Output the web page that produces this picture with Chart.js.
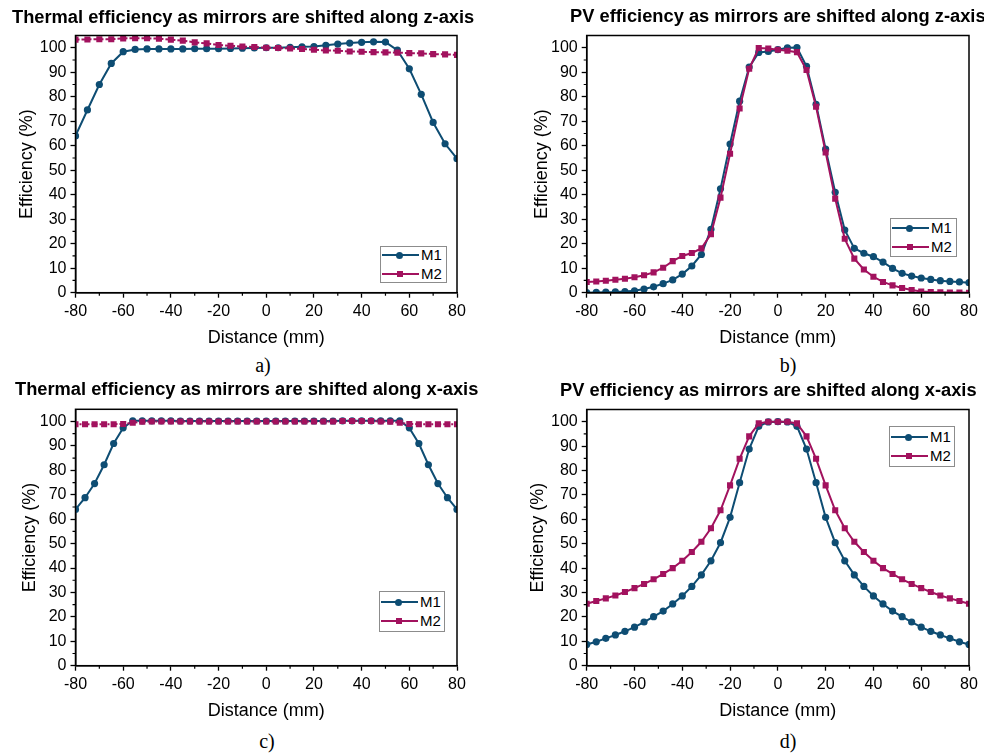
<!DOCTYPE html>
<html>
<head>
<meta charset="utf-8">
<script src="https://cdn.jsdelivr.net/npm/chart.js@4.4.0/dist/chart.umd.min.js"></script>
<style>
    html, body { margin: 0; padding: 0; width: 984px; height: 754px; overflow: hidden; background: #fff; }
    canvas { position: absolute; }
    .titulo { position: absolute; white-space: nowrap; color: #000; font: bold 18.3px/22px "Liberation Sans", Arial, sans-serif; }
    .rotulo { position: absolute; width: 60px; text-align: center; color: #000; font: 20px/24px "Liberation Serif", "Times New Roman", serif; }
    .legenda { position: absolute; box-sizing: border-box; border: 1px solid #8c8c8c; background: #fff; }
    .legenda span { position: absolute; left: 40px; color: #000; font: 15px/18px "Liberation Sans", Arial, sans-serif; }
</style>
</head>
<body>
<script>
// eixo x dos graficos (mm)
const distanciaPasso5 = [-80, -75, -70, -65, -60, -55, -50, -45, -40, -35, -30, -25, -20, -15, -10, -5, 0,
    5, 10, 15, 20, 25, 30, 35, 40, 45, 50, 55, 60, 65, 70, 75, 80];
const distanciaPasso4 = [-80, -76, -72, -68, -64, -60, -56, -52, -48, -44, -40, -36, -32, -28, -24, -20, -16, -12, -8, -4, 0,
    4, 8, 12, 16, 20, 24, 28, 32, 36, 40, 44, 48, 52, 56, 60, 64, 68, 72, 76, 80];

// a) termica, deslocamento em z
const termicaZ_M1 = [64.0, 74.6, 85.0, 93.6, 98.4, 99.3, 99.5, 99.5, 99.5, 99.5, 99.6, 99.6, 99.6, 99.7, 99.8, 99.9, 100.0,
    100.0, 100.2, 100.4, 100.5, 101.0, 101.5, 101.9, 102.2, 102.4, 102.3, 99.0, 91.4, 81.0, 69.5, 60.8, 54.7];
const termicaZ_M2 = [103.3, 103.4, 103.5, 103.5, 103.8, 103.9, 103.9, 103.7, 103.3, 102.9, 102.2, 101.8, 101.1, 100.8, 100.5, 100.3, 100.0,
    99.9, 99.7, 99.5, 99.2, 98.9, 98.8, 98.5, 98.4, 98.2, 98.1, 98.0, 97.8, 97.7, 97.4, 97.3, 97.1];

// b) PV, deslocamento em z
const pvZ_M1 = [0.0, 0.1, 0.2, 0.3, 0.5, 0.8, 1.5, 2.4, 3.7, 5.2, 7.6, 10.9, 15.6, 25.9, 42.4, 60.7, 78.2, 92.1, 98.1, 98.5, 99.2,
    100.0, 100.1, 92.4, 76.9, 58.6, 41.0, 25.6, 18.1, 16.1, 14.7, 12.5, 9.9, 7.9, 6.8, 6.0, 5.4, 4.9, 4.6, 4.4, 4.1];
const pvZ_M2 = [4.4, 4.6, 4.9, 5.3, 5.7, 6.3, 7.1, 8.3, 10.2, 12.9, 15.0, 16.2, 18.1, 23.9, 38.8, 56.7, 75.2, 91.4, 99.9, 99.7, 99.2,
    98.8, 98.2, 90.9, 75.9, 57.3, 38.4, 22.0, 13.9, 9.5, 6.5, 4.4, 3.0, 1.9, 1.1, 0.5, 0.3, 0.2, 0.1, 0.1, 0.0];

// c) termica, deslocamento em x
const termicaX_M1 = [64.0, 68.8, 74.6, 82.3, 91.0, 97.4, 100.3, 100.3, 100.3, 100.3, 100.3, 100.2, 100.2, 100.2, 100.2, 100.2, 100.2, 100.2, 100.2, 100.2, 100.2,
    100.2, 100.2, 100.2, 100.2, 100.2, 100.2, 100.2, 100.3, 100.3, 100.3, 100.3, 100.3, 100.3, 100.3, 97.4, 91.0, 82.3, 74.6, 68.8, 64.0];
const termicaX_M2 = [98.9, 98.9, 98.9, 98.9, 98.9, 99.0, 99.5, 99.9, 100.0, 100.0, 100.0, 100.0, 100.0, 100.0, 100.0, 100.0, 100.0, 100.0, 100.0, 100.0, 100.0,
    100.0, 100.0, 100.0, 100.0, 100.0, 100.0, 100.0, 100.2, 100.2, 100.2, 100.2, 100.0, 99.9, 99.5, 99.0, 98.9, 98.9, 98.9, 98.9, 98.9];

// d) PV, deslocamento em x
const pvX_M1 = [8.7, 9.8, 11.2, 12.6, 14.1, 15.8, 17.9, 20.1, 22.4, 25.3, 28.6, 32.5, 37.2, 43.0, 50.4, 60.8, 75.0, 88.8, 98.1, 99.9, 100.0,
    99.9, 98.1, 88.8, 75.0, 60.8, 50.4, 43.0, 37.2, 32.5, 28.6, 25.3, 22.4, 20.1, 17.9, 15.8, 14.1, 12.6, 11.2, 9.8, 8.7];
const pvX_M2 = [25.4, 26.5, 27.6, 28.8, 30.2, 31.8, 33.5, 35.4, 37.6, 40.0, 43.0, 46.6, 50.8, 56.3, 63.7, 73.9, 84.8, 94.0, 99.3, 100.0, 100.0,
    100.0, 99.3, 94.0, 84.8, 73.9, 63.7, 56.3, 50.8, 46.6, 43.0, 40.0, 37.6, 35.4, 33.5, 31.8, 30.2, 28.8, 27.6, 26.5, 25.4];

// marcas dos eixos
const ticksX = [-80, -60, -40, -20, 0, 20, 40, 60, 80];
const ticksXMenores = [-70, -50, -30, -10, 10, 30, 50, 70];
const ticksY = [0, 10, 20, 30, 40, 50, 60, 70, 80, 90, 100];
const ticksYMenores = [5, 15, 25, 35, 45, 55, 65, 75, 85, 95];

const corM1 = '#0e4d73';
const corM2 = '#a2125e';
const fonte = "'Liberation Sans', Arial, sans-serif";

// moldura + ticks menores (o Chart.js nao tem minor ticks no eixo linear)
const molduraPlugin = {
    id: 'moldura',
    afterDraw(chart) {
        const { ctx, chartArea: { left, right, top, bottom }, scales: { x, y } } = chart;
        ctx.save();
        ctx.strokeStyle = '#000';
        ctx.lineWidth = 1.5;
        ctx.strokeRect(left, top, right - left, bottom - top);
        ctx.lineWidth = 1.2;
        ctx.beginPath();
        ticksXMenores.forEach(v => {
            const px = x.getPixelForValue(v);
            ctx.moveTo(px, bottom);
            ctx.lineTo(px, bottom + 3);
        });
        ticksYMenores.forEach(v => {
            const py = y.getPixelForValue(v);
            ctx.moveTo(left - 3, py);
            ctx.lineTo(left, py);
        });
        ctx.stroke();
        ctx.restore();
    }
};

function criarLegenda(p) {
    const div = document.createElement('div');
    div.className = 'legenda';
    div.style.left = p.legenda[0] + 'px';
    div.style.top = p.legenda[1] + 'px';
    div.style.width = p.legenda[2] + 'px';
    div.style.height = p.legenda[3] + 'px';
    const meio = p.legenda[3] / 2 - 1;
    const itens = [
        { nome: 'M1', cor: corM1, y: meio - 9.2, marca: 'border-radius:50%; width:7px; height:7px;', r: 3.5 },
        { nome: 'M2', cor: corM2, y: meio + 9.2, marca: 'width:6px; height:6px;', r: 3 }
    ];
    div.innerHTML = itens.map(it => `
        <div style="position:absolute; left:1px; top:${it.y - 1}px; width:37px; height:2px; background:${it.cor};"></div>
        <div style="position:absolute; left:${18.5 - it.r}px; top:${it.y - it.r}px; background:${it.cor}; ${it.marca}"></div>
        <span style="top:${it.y - 9}px;">${it.nome}</span>
    `).join('');
    document.body.appendChild(div);
}

function criarPainel(p) {
    const canvasLeft = Math.round(p.yTituloX - 27);
    const largura = Math.round(p.plotR - canvasLeft + 27);
    const altura = Math.ceil(p.plotB - p.topo + 57);
    const larguraEixoY = p.plotL - canvasLeft;

    const canvas = document.createElement('canvas');
    canvas.width = largura;
    canvas.height = altura;
    canvas.style.left = canvasLeft + 'px';
    canvas.style.top = p.topo + 'px';
    canvas.style.width = largura + 'px';
    canvas.style.height = altura + 'px';
    document.body.appendChild(canvas);

    new Chart(canvas.getContext('2d'), {
        type: 'line',
        data: {
            datasets: [
                {
                    label: 'M1',
                    data: p.xs.map((x, i) => ({ x, y: p.m1[i] })),
                    borderColor: corM1,
                    backgroundColor: corM1,
                    borderWidth: 2,
                    pointStyle: 'circle',
                    pointRadius: 3.6,
                    pointBorderWidth: 0,
                    tension: 0,
                    order: 1
                },
                {
                    label: 'M2',
                    data: p.xs.map((x, i) => ({ x, y: p.m2[i] })),
                    borderColor: corM2,
                    backgroundColor: corM2,
                    borderWidth: 2,
                    borderDash: p.tracoM2,
                    pointStyle: 'rect',
                    pointRadius: 4.3,
                    pointBorderWidth: 0,
                    tension: 0,
                    order: 0
                }
            ]
        },
        options: {
            responsive: false,
            animation: false,
            events: [],
            layout: {
                padding: {
                    top: p.plotT - p.topo,
                    bottom: altura - (p.plotB - p.topo) - 56,
                    left: 0,
                    right: largura - (p.plotR - canvasLeft)
                }
            },
            plugins: {
                legend: { display: false },
                title: { display: false },
                tooltip: { enabled: false }
            },
            scales: {
                x: {
                    type: 'linear',
                    min: -80,
                    max: 80,
                    afterBuildTicks: s => { s.ticks = ticksX.map(v => ({ value: v })); },
                    afterFit: s => { s.height = 56; },
                    grid: { display: true, drawOnChartArea: false, drawTicks: true, tickLength: 5, tickColor: '#000', tickWidth: 1.3 },
                    border: { display: true, color: '#000', width: 1.5 },
                    ticks: { color: '#000', padding: 4, maxRotation: 0, autoSkip: false, font: { size: 16, family: fonte } },
                    title: { display: true, text: 'Distance (mm)', color: '#000', padding: { top: 0, bottom: 0 }, font: { size: 18, family: fonte } }
                },
                y: {
                    type: 'linear',
                    min: 0,
                    max: 105,
                    afterBuildTicks: s => { s.ticks = ticksY.map(v => ({ value: v })); },
                    afterFit: s => { s.width = larguraEixoY; },
                    grid: { display: true, drawOnChartArea: false, drawTicks: true, tickLength: 5, tickColor: '#000', tickWidth: 1.3 },
                    border: { display: true, color: '#000', width: 1.5 },
                    ticks: { color: '#000', padding: 4, autoSkip: false, font: { size: 16, family: fonte } },
                    title: { display: true, text: 'Efficiency (%)', color: '#000', padding: { top: p.yTituloX - canvasLeft - 10.8, bottom: 0 }, font: { size: 18, family: fonte } }
                }
            }
        },
        plugins: [molduraPlugin]
    });

    const titulo = document.createElement('div');
    titulo.className = 'titulo';
    titulo.style.left = p.tituloX + 'px';
    titulo.style.top = p.tituloY + 'px';
    titulo.textContent = p.titulo;
    document.body.appendChild(titulo);

    const rotulo = document.createElement('div');
    rotulo.className = 'rotulo';
    rotulo.style.left = (p.rotuloX - 30) + 'px';
    rotulo.style.top = (p.rotuloY - 18.7) + 'px';
    rotulo.textContent = p.rotulo;
    document.body.appendChild(rotulo);

    criarLegenda(p);
}

const paineis = [
    {
        titulo: 'Thermal efficiency as mirrors are shifted along z-axis', tituloX: 12, tituloY: 5.5,
        rotulo: 'a)', rotuloX: 263, rotuloY: 372,
        xs: distanciaPasso5, m1: termicaZ_M1, m2: termicaZ_M2, tracoM2: [4, 2],
        topo: 0, yTituloX: 27, plotL: 75.5, plotR: 457, plotT: 35.5, plotB: 292.7,
        legenda: [380, 246, 67, 37]
    },
    {
        titulo: 'PV efficiency as mirrors are shifted along z-axis', tituloX: 570, tituloY: 4.8,
        rotulo: 'b)', rotuloX: 788, rotuloY: 372,
        xs: distanciaPasso4, m1: pvZ_M1, m2: pvZ_M2, tracoM2: [],
        topo: 0, yTituloX: 541.7, plotL: 586.7, plotR: 969, plotT: 35.5, plotB: 292.7,
        legenda: [890, 218, 67, 39]
    },
    {
        titulo: 'Thermal efficiency as mirrors are shifted along x-axis', tituloX: 15, tituloY: 378.3,
        rotulo: 'c)', rotuloX: 267, rotuloY: 748,
        xs: distanciaPasso4, m1: termicaX_M1, m2: termicaX_M2, tracoM2: [2, 2],
        topo: 377, yTituloX: 30, plotL: 75.5, plotR: 457, plotT: 409.3, plotB: 665.7,
        legenda: [379, 591, 66, 41]
    },
    {
        titulo: 'PV efficiency as mirrors are shifted along x-axis', tituloX: 560, tituloY: 378.8,
        rotulo: 'd)', rotuloX: 788, rotuloY: 748,
        xs: distanciaPasso4, m1: pvX_M1, m2: pvX_M2, tracoM2: [],
        topo: 377, yTituloX: 538.3, plotL: 586.7, plotR: 969, plotT: 409.5, plotB: 665.7,
        legenda: [889, 426, 66, 41]
    }
];

paineis.forEach(criarPainel);
</script>
</body>
</html>
